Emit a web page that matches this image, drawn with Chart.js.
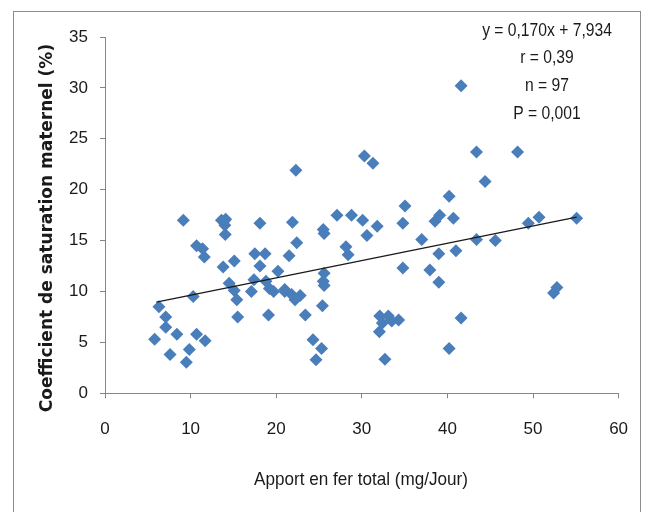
<!DOCTYPE html>
<html>
<head>
<meta charset="utf-8">
<script src="https://cdn.jsdelivr.net/npm/chart.js@4.4.1/dist/chart.umd.min.js"></script>
<style>
html,body{margin:0;padding:0;background:#fff;}
#wrap{width:651px;height:512px;}
</style>
</head>
<body>
<div id="wrap"><canvas id="c" width="651" height="512"></canvas></div>
<script>
// ---- data ----
const xValues = [5.8,6.3,7.1,7.1,7.6,8.4,9.15,9.5,9.85,10.3,10.7,10.7,11.4,11.6,11.7,13.6,14.1,14.0,14.05,13.8,15.1,14.5,15.1,15.4,15.5,17.5,18.7,18.1,18.1,17.4,17.1,18.8,19.2,19.7,19.1,20.2,
  22.3,30.3,31.3,21.9,22.4,21.5,21.0,21.8,22.2,22.8,23.4,24.3,25.3,24.65,25.5,25.6,25.6,25.5,25.6,25.4,27.1,28.8,30.1,30.6,31.8,28.15,28.4,34.8,35.05,34.8,37.0,38.55,39.1,39.0,37.95,39.0,40.2,40.2,32.1,33.1,32.4,34.3,32.05,32.7,
  41.6,43.4,48.2,44.4,40.7,43.4,45.6,49.45,50.7,55.1,41.0,52.8,52.4,41.6,
  13.9,33.5,21.0];
const yValues = [5.3,8.5,7.5,6.5,3.8,5.8,17.0,3.05,4.3,9.5,14.5,5.8,14.2,13.4,5.15,17.0,17.1,16.5,15.6,12.4,13.0,10.8,10.1,9.2,7.5,13.7,13.7,12.5,16.7,11.15,10.0,11.0,10.3,10.0,7.7,12.0,
  21.9,23.3,22.6,16.8,14.8,13.5,10.2,9.7,9.2,9.6,7.7,5.25,4.4,3.3,16.1,15.7,11.8,11.0,10.6,8.6,17.5,17.5,17.0,15.5,16.4,14.4,13.6,16.7,18.4,12.3,15.1,16.9,17.5,13.7,12.1,10.9,19.35,4.4,7.6,7.6,6.9,7.2,6.05,3.35,
  30.2,23.7,23.7,20.8,17.2,15.1,15.0,16.7,17.3,17.2,14.0,10.4,9.85,7.4,
  16.9,7.1,10.0];
const xTicks = [0,10,20,30,40,50,60];
const yTicks = [0,5,10,15,20,25,30,35];
const slope = 0.170, intercept = 7.934;
const trendX = [6.0, 55.1];
const statsLines = ['y = 0,170x + 7,934','r = 0,39','n = 97','P = 0,001'];
const xTitle = 'Apport en fer total (mg/Jour)';
const yTitle = 'Coefficient de saturation maternel (%)';

// ---- build ----
const points = xValues.map((x,i)=>({x:x,y:yValues[i]}));
const trend = trendX.map(x=>({x:x,y:slope*x+intercept}));
const FONT = "'Liberation Sans',Arial,sans-serif";

function narrowText(ctx, text, cx, cy, font, sx){
  ctx.save();
  ctx.font = font;
  ctx.translate(cx, cy);
  ctx.scale(sx, 1);
  ctx.fillText(text, 0, 0);
  ctx.restore();
}

const decor = {
  id:'decor',
  beforeDraw(chart){
    const ctx = chart.ctx;
    ctx.save();
    ctx.fillStyle='#fff';
    ctx.fillRect(0,0,chart.width,chart.height);
    ctx.strokeStyle='#8c8c8c';
    ctx.lineWidth=1;
    ctx.strokeRect(13.5,11.5,627,520);
    ctx.restore();
  },
  afterDraw(chart){
    const ctx = chart.ctx;
    ctx.save();
    ctx.fillStyle='#1a1a1a';
    ctx.textAlign='center';
    ctx.textBaseline='middle';
    const ys=[31,58,86,114];
    statsLines.forEach((t,i)=>narrowText(ctx,t,547,ys[i],"18px "+FONT,0.87));
    narrowText(ctx,xTitle,361,480,"19px "+FONT,0.9);
    ctx.translate(48,228);
    ctx.rotate(-Math.PI/2);
    ctx.font = "bold 17px 'DejaVu Sans',sans-serif";
    ctx.fillText(yTitle,0,0);
    ctx.restore();
  }
};

new Chart(document.getElementById('c'),{
  type:'scatter',
  data:{datasets:[
    {type:'line',data:trend,borderColor:'#1a1a1a',borderWidth:1.4,pointRadius:0,fill:false,order:0},
    {data:points,pointStyle:'rectRot',pointRadius:6.5,backgroundColor:'#4a7ebb',borderColor:'#4a7ebb',borderWidth:0,pointHoverRadius:6.5,order:1}
  ]},
  options:{
    responsive:false,
    animation:false,
    devicePixelRatio:1,
    layout:{padding:{left:0,right:32.4,top:37,bottom:0}},
    plugins:{legend:{display:false},tooltip:{enabled:false}},
    scales:{
      x:{type:'linear',min:0,max:60,
        afterBuildTicks(s){s.ticks=xTicks.map(v=>({value:v}));},
        afterFit(s){s.height=118.7;},
        grid:{drawOnChartArea:false,drawTicks:true,tickLength:5,color:'#868686'},
        border:{display:true,color:'#868686',width:1},
        ticks:{color:'#1a1a1a',font:{family:FONT,size:17},padding:21,maxRotation:0}
      },
      y:{type:'linear',min:0,max:35,
        afterBuildTicks(s){s.ticks=yTicks.map(v=>({value:v}));},
        afterFit(s){s.width=105;},
        grid:{drawOnChartArea:false,drawTicks:true,tickLength:5,color:'#868686'},
        border:{display:true,color:'#868686',width:1},
        ticks:{color:'#1a1a1a',font:{family:FONT,size:17},padding:12}
      }
    }
  },
  plugins:[decor]
});
</script>
</body>
</html>
